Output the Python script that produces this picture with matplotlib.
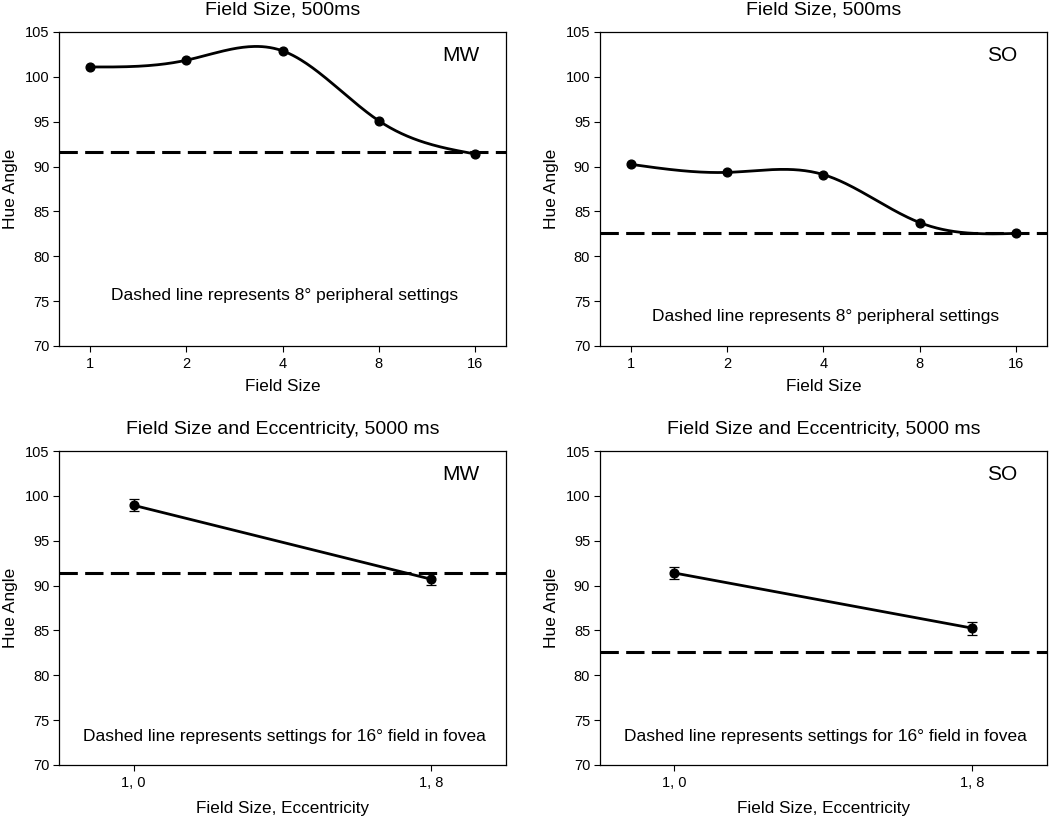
import numpy as np
import matplotlib
matplotlib.use("Agg")
import matplotlib.pyplot as plt

plt.rcParams['font.family'] = ['Liberation Sans', 'DejaVu Sans']

# top row: field size, 500 ms
field_sizes = ['1', '2', '4', '8', '16']
mw_500 = [101.1, 101.85, 102.9, 95.1, 91.4]
so_500 = [90.25, 89.35, 89.1, 83.75, 82.55]
mw_500_ref = 91.65
so_500_ref = 82.6

# bottom row: field size and eccentricity, 5000 ms
fs_ecc = ['1, 0', '1, 8']
mw_5000 = [98.95, 90.7]
mw_5000_err = [0.67, 0.67]
so_5000 = [91.4, 85.25]
so_5000_err = [0.7, 0.72]
mw_5000_ref = 91.35
so_5000_ref = 82.6


def natural_spline(x, y, n=200):
    # natural cubic spline, like the smoothed curve in the original
    x = np.asarray(x, float)
    y = np.asarray(y, float)
    k = len(x)
    h = np.diff(x)
    A = np.zeros((k, k))
    b = np.zeros(k)
    A[0, 0] = A[-1, -1] = 1
    for i in range(1, k - 1):
        A[i, i - 1] = h[i - 1]
        A[i, i] = 2 * (h[i - 1] + h[i])
        A[i, i + 1] = h[i]
        b[i] = 3 * ((y[i + 1] - y[i]) / h[i] - (y[i] - y[i - 1]) / h[i - 1])
    c = np.linalg.solve(A, b)
    xs = np.linspace(x[0], x[-1], n)
    ys = np.empty_like(xs)
    for j, xv in enumerate(xs):
        i = min(np.searchsorted(x, xv, side='right') - 1, k - 2)
        d = xv - x[i]
        bi = (y[i + 1] - y[i]) / h[i] - h[i] * (2 * c[i] + c[i + 1]) / 3
        di = (c[i + 1] - c[i]) / (3 * h[i])
        ys[j] = y[i] + bi * d + c[i] * d ** 2 + di * d ** 3
    return xs, ys


def style_axes(ax, labels, xlim, xlabel, xpad, title, subj, note, note_y):
    ax.set_ylim(70, 105)
    ax.set_yticks(np.arange(70, 106, 5))
    ax.set_xticks(range(len(labels)))
    ax.set_xticklabels(labels)
    ax.set_xlim(*xlim)
    ax.tick_params(direction='out', length=4, width=0.8, labelsize=10.5)
    ax.tick_params(axis='y', pad=3)
    ax.tick_params(axis='x', pad=4)
    for s in ax.spines.values():
        s.set_linewidth(0.9)
    ax.set_ylabel('Hue Angle', fontsize=12.5)
    ax.yaxis.set_label_coords(-0.092, 0.5)
    ax.set_xlabel(xlabel, fontsize=12.3, labelpad=xpad)
    ax.set_title(title, fontsize=14, pad=12.5)
    ax.text(0.90, 0.925, subj, transform=ax.transAxes, ha='center', va='center', fontsize=15)
    ax.text(0.505, note_y, note, transform=ax.transAxes, ha='center', va='center', fontsize=12.5)


fig = plt.figure(figsize=(10.5, 8.16), dpi=100)
w, h = 0.4257, 0.3848
ax_tl = fig.add_axes([0.0562, 0.576, w, h])
ax_tr = fig.add_axes([0.5714, 0.576, w, h])
ax_bl = fig.add_axes([0.0562, 0.0625, w, h])
ax_br = fig.add_axes([0.5714, 0.0625, w, h])

note_top = 'Dashed line represents 8° peripheral settings'
note_bot = 'Dashed line represents settings for 16° field in fovea'

for ax, vals, ref, subj, ny in [(ax_tl, mw_500, mw_500_ref, 'MW', 0.162),
                                (ax_tr, so_500, so_500_ref, 'SO', 0.093)]:
    xp = np.arange(len(field_sizes))
    xs, ys = natural_spline(xp, vals)
    ax.plot(xs, ys, color='black', lw=2.0, zorder=3)
    ax.plot(xp, vals, 'o', color='black', ms=6.3, zorder=4)
    ax.axhline(ref, color='black', lw=2.2, dashes=(6, 2.4), zorder=2)
    style_axes(ax, field_sizes, (-0.32, 4.32), 'Field Size', 5.5,
               'Field Size, 500ms', subj, note_top, ny)

for ax, vals, err, ref, subj in [(ax_bl, mw_5000, mw_5000_err, mw_5000_ref, 'MW'),
                                 (ax_br, so_5000, so_5000_err, so_5000_ref, 'SO')]:
    xp = np.arange(len(fs_ecc))
    ax.errorbar(xp, vals, yerr=err, color='black', lw=2.0, marker='o', ms=6.3,
                elinewidth=0.9, capsize=3.5, capthick=0.9, zorder=3)
    ax.axhline(ref, color='black', lw=2.2, dashes=(6, 2.4), zorder=2)
    style_axes(ax, fs_ecc, (-0.25, 1.25), 'Field Size, Eccentricity', 7.5,
               'Field Size and Eccentricity, 5000 ms', subj, note_bot, 0.092)

fig.savefig('out.png', dpi=100)
